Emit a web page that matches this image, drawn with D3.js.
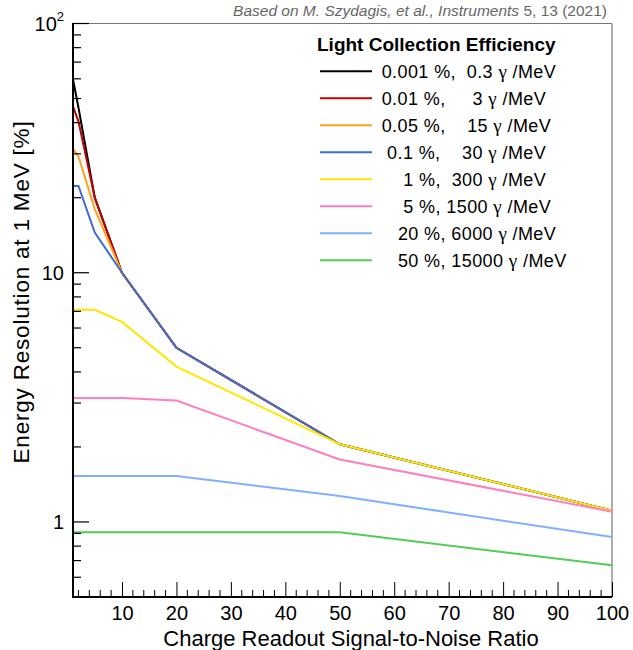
<!DOCTYPE html>
<html>
<head>
<meta charset="utf-8">
<script src="https://cdn.jsdelivr.net/npm/d3@7"></script>
<style>
  html, body { margin: 0; padding: 0; background: #fff; }
  svg { display: block; font-family: "Liberation Sans", Arial, Helvetica, sans-serif; }
  text { white-space: pre; }
</style>
</head>
<body>
<svg id="chart" width="633" height="650"></svg>
<script>
// ---- data ----
const snr = [1, 2, 5, 10, 20, 50, 100];
const seriesNames = [
  "0.001 %,  0.3 \u03b3 /MeV",
  "0.01 %,     3 \u03b3 /MeV",
  "0.05 %,    15 \u03b3 /MeV",
  " 0.1 %,    30 \u03b3 /MeV",
  "    1 %,  300 \u03b3 /MeV",
  "    5 %, 1500 \u03b3 /MeV",
  "   20 %, 6000 \u03b3 /MeV",
  "   50 %, 15000 \u03b3 /MeV"
];
const res0001 = [59.6, 46.0, 20.0, 10.0, 5.0, 2.05, 1.11];
const res001  = [46.5, 40.5, 20.0, 10.0, 5.0, 2.05, 1.11];
const res005  = [31.4, 29.3, 18.0, 10.0, 5.0, 2.05, 1.11];
const res01   = [22.3, 22.3, 14.5, 10.0, 5.0, 2.05, 1.11];
const res1    = [7.1, 7.1, 7.1, 6.35, 4.2, 2.05, 1.11];
const res5    = [3.14, 3.14, 3.14, 3.14, 3.07, 1.78, 1.10];
const res20   = [1.53, 1.53, 1.53, 1.53, 1.53, 1.27, 0.87];
const res50   = [0.91, 0.91, 0.91, 0.91, 0.91, 0.91, 0.67];
const seriesValues = [res0001, res001, res005, res01, res1, res5, res20, res50];
const seriesColors = ["#000000", "#c40000", "#ffa31a", "#3d6bd4", "#ffe600", "#ff7fbf", "#7fb0ff", "#55cc55"];
const xTicks = [10, 20, 30, 40, 50, 60, 70, 80, 90, 100];
const yMajor = [1, 10, 100];
const legendTitle = "Light Collection Efficiency";
const xTitle = "Charge Readout Signal-to-Noise Ratio";
const yTitle = "Energy Resolution at 1 MeV [%]";

// ---- layout ----
const L = 73, R = 612, T = 23.5, B = 597;
const svg = d3.select("#chart");
const x = d3.scaleLinear().domain([1, 100]).range([L, R]);
const y = d3.scaleLog().domain([0.5, 100]).range([B, T]);

// frame (top/right grey)
svg.append("line").attr("x1", L).attr("x2", R).attr("y1", T).attr("y2", T)
  .attr("stroke", "#777").attr("stroke-width", 1.2);
svg.append("line").attr("x1", R).attr("x2", R).attr("y1", T).attr("y2", B)
  .attr("stroke", "#777").attr("stroke-width", 1.2);

// data lines
const line = d3.line().x((d, i) => x(snr[i])).y(d => y(d));
const lines = svg.append("g").attr("fill", "none").attr("stroke-width", 2);
seriesValues.forEach((vals, k) => {
  lines.append("path").attr("d", line(vals)).attr("stroke", seriesColors[k]);
});

// x axis
const xMinor = d3.range(2, 100, 2).filter(v => v % 10 !== 0);
const xAxis = svg.append("g").attr("transform", `translate(0,${B})`);
xAxis.call(d3.axisBottom(x).tickValues(xTicks).tickSize(-15).tickPadding(8).tickFormat(d3.format("d")))
  .call(g => g.select(".domain").remove())
  .call(g => g.selectAll(".tick line").attr("stroke", "#000").attr("stroke-width", 1))
  .call(g => g.selectAll(".tick text").attr("font-size", 20).attr("fill", "#000")
    .attr("font-family", "Liberation Sans, Arial, sans-serif").attr("y", 9).attr("dy", "0.71em"));
xAxis.selectAll(".minor").data(xMinor).enter().append("line").attr("class", "minor")
  .attr("x1", d => x(d)).attr("x2", d => x(d)).attr("y1", 0).attr("y2", -7)
  .attr("stroke", "#000").attr("stroke-width", 1);
svg.append("line").attr("x1", L - 1).attr("x2", R).attr("y1", B).attr("y2", B)
  .attr("stroke", "#000").attr("stroke-width", 2);

// y axis
const yMinor = [];
[0.1, 1, 10].forEach(dec => { for (let m = 2; m <= 9; m++) { const v = m * dec; if (v >= 0.5 && v < 100) yMinor.push(v); } });
const yAxis = svg.append("g").attr("transform", `translate(${L},0)`);
yAxis.selectAll(".maj").data(yMajor).enter().append("line")
  .attr("x1", 0).attr("x2", 16).attr("y1", d => y(d)).attr("y2", d => y(d))
  .attr("stroke", "#000").attr("stroke-width", 1.2);
yAxis.selectAll(".min").data(yMinor).enter().append("line")
  .attr("x1", 0).attr("x2", 8).attr("y1", d => y(d)).attr("y2", d => y(d))
  .attr("stroke", "#000").attr("stroke-width", 1.2);
const yLab = yAxis.selectAll(".lab").data(yMajor).enter().append("text")
  .attr("x", -9).attr("y", d => y(d)).attr("dy", "0.36em")
  .attr("text-anchor", "end").attr("font-size", 20).attr("fill", "#000");
yLab.each(function(d) {
  const t = d3.select(this);
  if (d >= 100) {
    t.append("tspan").text("10");
    t.append("tspan").attr("font-size", 13).attr("dy", "-0.75em").text(String(Math.round(Math.log10(d))));
  } else {
    t.text(String(d));
  }
});
svg.append("line").attr("x1", L).attr("x2", L).attr("y1", T - 0.5).attr("y2", B + 1)
  .attr("stroke", "#000").attr("stroke-width", 2);

// axis titles
svg.append("text").attr("x", 351).attr("y", 646).attr("text-anchor", "middle")
  .attr("font-size", 22).attr("fill", "#000").text(xTitle);
svg.append("text").attr("transform", "translate(29,292) rotate(-90)").attr("text-anchor", "middle")
  .attr("font-size", 22.5).attr("letter-spacing", 0.8).attr("fill", "#000").text(yTitle);

// credit
const credit = svg.append("text").attr("x", 607).attr("y", 16).attr("text-anchor", "end")
  .attr("font-size", 15.5).attr("fill", "#666");
credit.append("tspan").attr("font-style", "italic").text("Based on M. Szydagis, et al., Instruments");
credit.append("tspan").text(" 5, 13 (2021)");

// legend
const lg = svg.append("g");
lg.append("text").attr("x", 317).attr("y", 51).attr("font-size", 19).attr("font-weight", "bold")
  .attr("fill", "#000").text(legendTitle);
seriesNames.forEach((name, k) => {
  const yy = 71.3 + 27 * k;
  lg.append("line").attr("x1", 320).attr("x2", 372).attr("y1", yy).attr("y2", yy)
    .attr("stroke", seriesColors[k]).attr("stroke-width", 2);
  const t = lg.append("text").attr("x", 381.7).attr("y", yy).attr("dy", "0.36em")
    .attr("font-size", 18).attr("letter-spacing", 0.4).attr("fill", "#000");
  const parts = name.split("\u03b3");
  parts.forEach((p, i) => {
    t.append("tspan").text(p);
    if (i < parts.length - 1) {
      t.append("tspan").attr("font-family", "Liberation Serif, DejaVu Serif, serif").attr("font-size", 19).text("\u03b3");
    }
  });
});
</script>
</body>
</html>
